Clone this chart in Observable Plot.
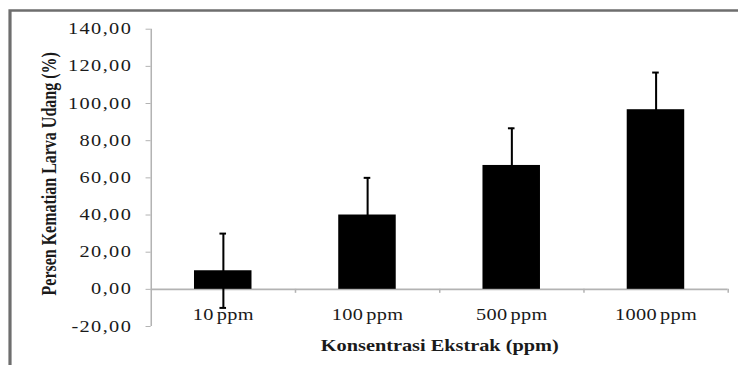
<!DOCTYPE html>
<html><head><meta charset="utf-8">
<script src="https://cdn.jsdelivr.net/npm/d3@7"></script>
<script src="https://cdn.jsdelivr.net/npm/@observablehq/plot@0.6"></script>
<style>
html,body{margin:0;padding:0;background:#fff;}
#chart{width:738px;height:365px;overflow:hidden;}
</style></head><body>
<div id="chart"></div>
<script>
const categories = ["10 ppm", "100 ppm", "500 ppm", "1000 ppm"];
const means = [10, 40, 66.67, 96.67];
const errors = [20, 20, 20, 20];
const yTicks = [-20, 0, 20, 40, 60, 80, 100, 120, 140];
const xLabel = "Konsentrasi Ekstrak (ppm)";
const yLabel = "Persen Kematian Larva Udang (%)";

const rows = categories.map((c, i) => ({cat: c, i, mid: i + 0.5, mean: means[i], lo: means[i] - errors[i], hi: means[i] + errors[i]}));
const boundaries = categories.map((c, i) => i + 1);

const W = 738, H = 365, S = 1.27;
const W0 = W / S;
const serif = "'Liberation Serif','Times New Roman',serif";
const gray = "#b3b3b3";
const ink = "#1a1a1a";

const plot = Plot.plot({
  width: W0, height: H,
  marginLeft: 118.6, marginRight: W0 - 572.9, marginTop: 28.7, marginBottom: 39,
  style: {fontFamily: serif, fontSize: "16px", color: ink, background: "transparent"},
  x: {domain: [0, categories.length], axis: null},
  y: {domain: [-20, 140], axis: null},
  marks: [
    Plot.axisY({ticks: yTicks, tickFormat: d => d.toFixed(2).replace(".", ","), tickSize: 4, tickPadding: 11, stroke: gray, fill: ink, label: null, fontSize: 16, className: "ytick"}),
    Plot.ruleX([0], {stroke: gray, strokeWidth: 1.2}),
    Plot.ruleY([0], {stroke: gray, strokeWidth: 1.6}),
    Plot.ruleX(boundaries, {y1: 0, y2: 0, insetBottom: -4, stroke: gray, strokeWidth: 1.2}),
    Plot.rectY(rows, {x1: "i", x2: d => d.i + 1, y1: 0, y2: "mean", fill: "#000", insetLeft: 34.15, insetRight: 34.15}),
    Plot.ruleX(rows, {x: "mid", y1: "lo", y2: "hi", stroke: "#000", strokeWidth: 1.6}),
    Plot.ruleY(rows, {y: "hi", x1: "mid", x2: "mid", insetLeft: -2.6, insetRight: -2.6, stroke: "#000", strokeWidth: 2}),
    Plot.ruleY(rows, {y: "lo", x1: "mid", x2: "mid", insetLeft: -2.6, insetRight: -2.6, stroke: "#000", strokeWidth: 2}),
    Plot.text(rows, {x: "mid", y: 0, text: "cat", dy: 25.4, fill: ink, fontSize: 16, className: "xcat"}),
    Plot.text([yLabel], {frameAnchor: "left", textAnchor: "middle", dx: -80.4, dy: -4, rotate: -90, text: d => d, fontWeight: "bold", fontSize: 16, fill: ink}),
    Plot.text([xLabel], {frameAnchor: "bottom", dy: 24, text: d => d, fontWeight: "bold", fontSize: 16, fill: ink})
  ]
});

plot.querySelectorAll(".ytick text").forEach(t => t.setAttribute("letter-spacing", "1.1"));
plot.querySelectorAll(".xcat text").forEach(t => { t.setAttribute("word-spacing", "-2"); t.setAttribute("letter-spacing", "0.3"); });

// outer picture frame (top and left edges), in the SVG's own coordinates
const ns = "http://www.w3.org/2000/svg";
const edge = document.createElementNS(ns, "path");
edge.setAttribute("d", `M${10 / S},${H}V10.5H${W0}`);
edge.setAttribute("fill", "none");
edge.setAttribute("stroke", "#6e6e6e");
edge.setAttribute("stroke-width", "2.5");
plot.appendChild(edge);

plot.setAttribute("width", W);
plot.setAttribute("height", H);
plot.setAttribute("viewBox", `0 0 ${W0} ${H}`);
plot.setAttribute("preserveAspectRatio", "none");
plot.style.width = W + "px";
plot.style.height = H + "px";
plot.style.maxWidth = "none";
plot.style.display = "block";
document.getElementById("chart").appendChild(plot);
</script>
</body></html>
